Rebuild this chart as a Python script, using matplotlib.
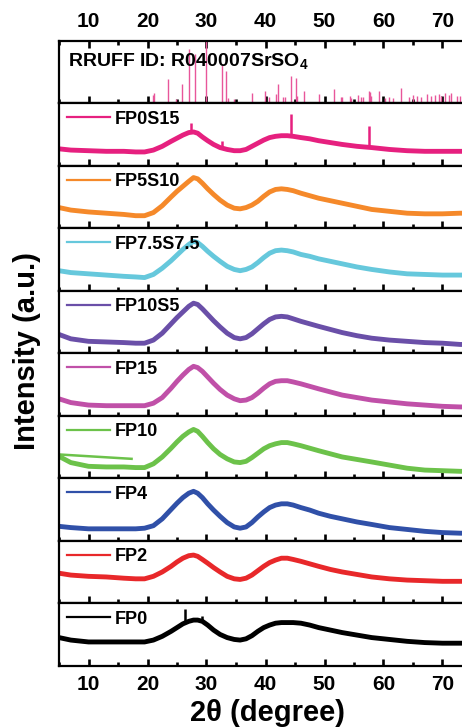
import matplotlib
matplotlib.use("Agg")
import matplotlib.pyplot as plt
from matplotlib.ticker import MultipleLocator

plt.rcParams.update({
    'font.family': 'Liberation Sans',
    'font.weight': 'bold',
    'mathtext.fontset': 'custom',
    'mathtext.rm': 'Liberation Sans:bold',
    'mathtext.bf': 'Liberation Sans:bold',
})

# ── Data (normalised intensity, 0 = panel bottom, 1 = panel top) ─────────
two_theta = [5, 7, 10, 13, 16, 18, 19.5, 21, 22.5, 24, 25, 26, 27, 27.8, 28.5, 29.3,
             30.2, 31.2, 32.3, 33.5, 34.7, 35.7, 36.7, 37.7, 38.7, 39.7, 40.7, 41.7,
             42.7, 43.7, 44.7, 46, 47.5, 49, 51, 53, 55.5, 58, 61, 64, 67, 70, 73, 75]

fp0s15 = [0.27, 0.25, 0.24, 0.23, 0.23, 0.22, 0.22, 0.25, 0.31, 0.39, 0.44, 0.49, 0.53, 0.54,
          0.52, 0.46, 0.40, 0.34, 0.29, 0.26, 0.24, 0.24, 0.26, 0.31, 0.36, 0.41, 0.45, 0.47,
          0.48, 0.48, 0.47, 0.45, 0.43, 0.40, 0.37, 0.34, 0.31, 0.29, 0.26, 0.24, 0.23, 0.23,
          0.23, 0.23]
fp5s10 = [0.33, 0.29, 0.26, 0.24, 0.22, 0.20, 0.20, 0.25, 0.36, 0.50, 0.59, 0.67, 0.75, 0.81,
          0.79, 0.72, 0.63, 0.54, 0.45, 0.37, 0.32, 0.31, 0.33, 0.37, 0.43, 0.51, 0.58, 0.62,
          0.63, 0.62, 0.60, 0.56, 0.52, 0.48, 0.44, 0.40, 0.35, 0.30, 0.27, 0.24, 0.23, 0.23,
          0.24, 0.24]
fp75s75 = [0.32, 0.29, 0.27, 0.25, 0.23, 0.22, 0.21, 0.26, 0.36, 0.48, 0.57, 0.66, 0.74, 0.79,
           0.77, 0.71, 0.63, 0.55, 0.47, 0.39, 0.34, 0.32, 0.34, 0.38, 0.45, 0.53, 0.60, 0.64,
           0.65, 0.64, 0.62, 0.58, 0.55, 0.51, 0.47, 0.43, 0.38, 0.34, 0.30, 0.27, 0.26, 0.25,
           0.25, 0.25]
fp10s5 = [0.30, 0.23, 0.19, 0.18, 0.17, 0.16, 0.16, 0.21, 0.32, 0.47, 0.57, 0.66, 0.75, 0.80,
          0.78, 0.71, 0.62, 0.52, 0.42, 0.32, 0.25, 0.23, 0.25, 0.31, 0.39, 0.47, 0.54, 0.58,
          0.59, 0.58, 0.55, 0.51, 0.47, 0.43, 0.38, 0.33, 0.28, 0.24, 0.21, 0.19, 0.17, 0.16,
          0.14, 0.14]
fp15 = [0.27, 0.21, 0.17, 0.16, 0.16, 0.16, 0.16, 0.20, 0.29, 0.44, 0.55, 0.65, 0.74, 0.79,
        0.77, 0.71, 0.62, 0.52, 0.42, 0.33, 0.27, 0.24, 0.25, 0.29, 0.36, 0.44, 0.51, 0.55,
        0.56, 0.56, 0.54, 0.51, 0.47, 0.43, 0.38, 0.33, 0.29, 0.25, 0.22, 0.19, 0.17, 0.15,
        0.14, 0.14]
fp10 = [0.35, 0.25, 0.19, 0.18, 0.18, 0.17, 0.17, 0.23, 0.34, 0.48, 0.58, 0.67, 0.74, 0.78,
        0.75, 0.67, 0.57, 0.47, 0.38, 0.31, 0.26, 0.25, 0.27, 0.33, 0.40, 0.47, 0.52, 0.55,
        0.57, 0.57, 0.55, 0.52, 0.48, 0.44, 0.39, 0.34, 0.30, 0.26, 0.21, 0.16, 0.13, 0.12,
        0.11, 0.11]
fp4 = [0.23, 0.21, 0.19, 0.19, 0.19, 0.19, 0.20, 0.24, 0.35, 0.50, 0.60, 0.69, 0.76, 0.79,
       0.76, 0.69, 0.59, 0.49, 0.39, 0.29, 0.22, 0.20, 0.22, 0.29, 0.38, 0.46, 0.53, 0.57,
       0.59, 0.59, 0.57, 0.53, 0.49, 0.44, 0.39, 0.35, 0.30, 0.26, 0.21, 0.18, 0.15, 0.13,
       0.12, 0.12]
fp2 = [0.48, 0.45, 0.43, 0.42, 0.40, 0.39, 0.39, 0.43, 0.50, 0.59, 0.66, 0.72, 0.76, 0.77,
       0.75, 0.70, 0.64, 0.57, 0.50, 0.43, 0.39, 0.38, 0.40, 0.45, 0.52, 0.59, 0.65, 0.69,
       0.72, 0.72, 0.70, 0.67, 0.63, 0.59, 0.54, 0.50, 0.46, 0.42, 0.39, 0.37, 0.36, 0.35,
       0.35, 0.35]
fp0 = [0.45, 0.41, 0.38, 0.38, 0.38, 0.38, 0.38, 0.41, 0.47, 0.55, 0.61, 0.67, 0.71, 0.73,
       0.73, 0.71, 0.65, 0.57, 0.50, 0.45, 0.42, 0.41, 0.43, 0.48, 0.55, 0.61, 0.65, 0.68,
       0.69, 0.69, 0.69, 0.68, 0.65, 0.61, 0.57, 0.53, 0.49, 0.45, 0.42, 0.39, 0.37, 0.36,
       0.36, 0.36]

# sharp crystalline spikes (position, base, top)
fp0s15_spike_x = [27.3, 32.7, 44.3, 57.5]
fp0s15_spike_lo = [0.53, 0.29, 0.47, 0.30]
fp0s15_spike_hi = [0.68, 0.40, 0.83, 0.63]
fp0_spike_x = [26.3, 29.3]
fp0_spike_lo = [0.70, 0.70]
fp0_spike_hi = [0.90, 0.80]

# stray segment in the FP10 panel
fp10_stray_x = [5, 17.3]
fp10_stray_y = [0.38, 0.31]

# RRUFF R040007 celestine reference sticks
ref_pos = [20.9, 21.05, 23.5, 24.8, 25.9, 26.95, 28.0, 29.95, 32.7, 33.35, 33.7, 34.7,
           37.75, 39.95, 40.6, 41.75, 42.05, 42.9, 43.3, 44.25, 45.15, 45.4, 46.6, 49.0,
           51.55, 52.8, 52.95, 54.4, 54.55, 55.6, 56.2, 56.6, 57.5, 57.7, 57.9, 59.3,
           60.2, 60.9, 61.6, 63.0, 64.4, 65.0, 65.6, 66.3, 67.4, 68.0, 68.7, 69.4,
           69.7, 70.5, 71.1, 71.4, 72.4, 72.9]
ref_int = [0.13, 0.16, 0.38, 0.07, 0.31, 0.86, 0.78, 1.0, 0.61, 0.51, 0.08, 0.06,
           0.17, 0.19, 0.10, 0.15, 0.30, 0.10, 0.10, 0.43, 0.40, 0.12, 0.19, 0.14,
           0.23, 0.10, 0.10, 0.12, 0.08, 0.13, 0.10, 0.10, 0.20, 0.18, 0.11, 0.19,
           0.08, 0.10, 0.09, 0.24, 0.10, 0.13, 0.11, 0.10, 0.14, 0.12, 0.13, 0.15,
           0.12, 0.17, 0.13, 0.16, 0.11, 0.12]

labels = ['FP0S15', 'FP5S10', 'FP7.5S7.5', 'FP10S5', 'FP15', 'FP10', 'FP4', 'FP2', 'FP0']
series = [fp0s15, fp5s10, fp75s75, fp10s5, fp15, fp10, fp4, fp2, fp0]
colors = ['#E6207F', '#F5892A', '#66C8DC', '#6A4FA8', '#C050A8', '#6CC24A',
          '#3050A8', '#E8282A', '#000000']

# ── Layout ───────────────────────────────────────────────────────────────
W, H = 462, 728
fig = plt.figure(figsize=(W / 100, H / 100), dpi=100)
left, right = 59 / W, 472 / W
top, bottom = 1 - 40.7 / H, 1 - 665.7 / H
n = 10
ph = (top - bottom) / n

axes = []
for i in range(n):
    ax = fig.add_axes([left, top - (i + 1) * ph, right - left, ph])
    ax.set_xlim(5, 75)
    ax.set_ylim(0, 1)
    ax.set_yticks([])
    ax.xaxis.set_major_locator(MultipleLocator(10))
    ax.xaxis.set_minor_locator(MultipleLocator(5))
    ax.tick_params(axis='x', which='both', direction='in', width=1.9,
                   labelbottom=False, labeltop=False, top=False, bottom=True,
                   labelsize=15, pad=7)
    ax.tick_params(axis='x', which='major', length=5)
    ax.tick_params(axis='x', which='minor', length=2.6)
    for s in ax.spines.values():
        s.set_linewidth(1.6)
    axes.append(ax)

# top reference panel
ax0 = axes[0]
ax0.vlines(ref_pos, 0, ref_int, color='#E8569A', lw=1.0)
ax0.tick_params(axis='x', which='both', top=True, labeltop=True)
ax0.text(0.022, 0.665, r'RRUFF ID: R040007SrSO$_\mathbf{4}$', transform=ax0.transAxes,
         fontsize=14, fontweight='bold', va='center', ha='left')

for ax, y, c, lab in zip(axes[1:], series, colors, labels):
    ax.plot(two_theta, y, color=c, lw=3.5, solid_joinstyle='round', label=lab)
    leg = ax.legend(loc='center left', bbox_to_anchor=(0.0186, 0.744), frameon=False,
                    borderpad=0, borderaxespad=0, handlelength=2.4, handletextpad=0.25,
                    prop={'weight': 'bold', 'size': 13})
    for h in leg.get_lines():
        h.set_linewidth(1.6)

axes[1].vlines(fp0s15_spike_x, fp0s15_spike_lo, fp0s15_spike_hi, color=colors[0], lw=1.8)
axes[9].vlines(fp0_spike_x, fp0_spike_lo, fp0_spike_hi, color=colors[8], lw=1.8)
axes[6].plot(fp10_stray_x, fp10_stray_y, color=colors[5], lw=1.8)

axes[-1].tick_params(axis='x', which='both', labelbottom=True)

for ax in (axes[0], axes[-1]):
    for t in ax.get_xticklabels():
        t.set_fontweight('bold')

fig.text(267 / W, 1 - 713 / H, '2θ (degree)', ha='center', va='center',
         fontsize=21, fontweight='bold')
fig.text(27 / W, 1 - 351 / H, 'Intensity (a.u.)', ha='center', va='center',
         rotation=90, fontsize=21, fontweight='bold')

fig.savefig('out.png', dpi=100, facecolor='white')
